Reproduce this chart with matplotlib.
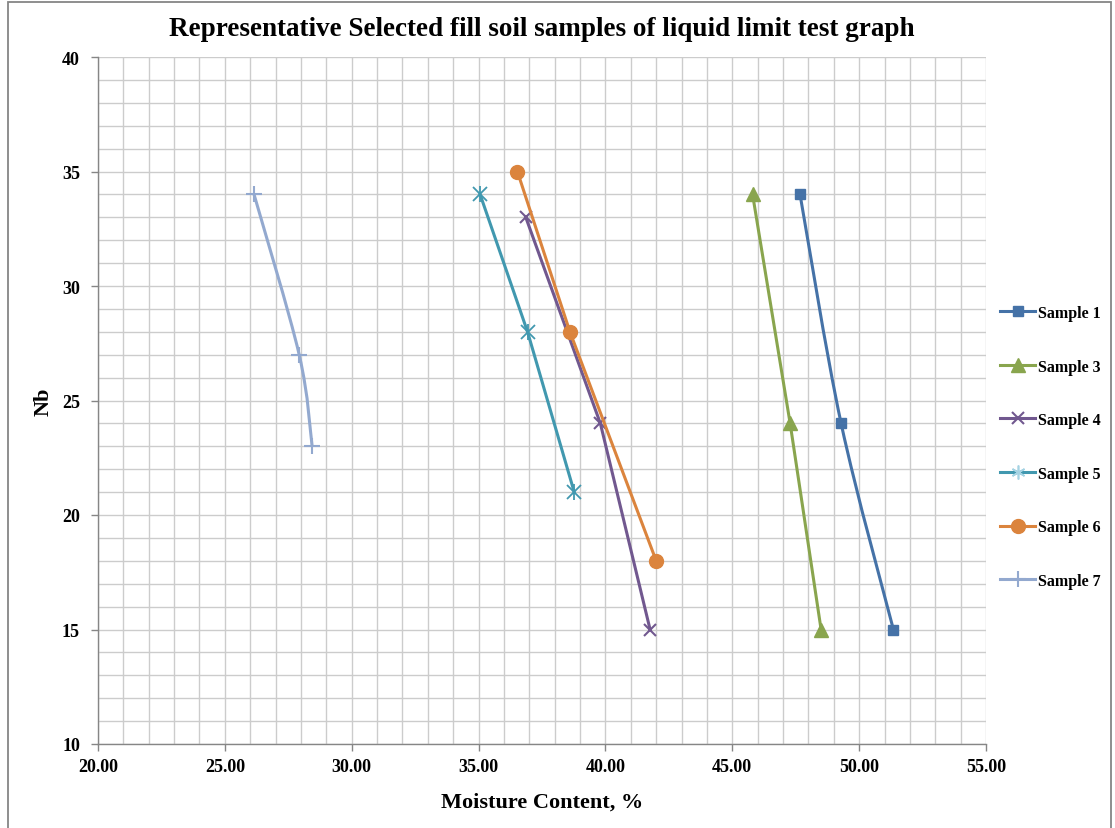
import matplotlib
matplotlib.use("Agg")
import matplotlib.pyplot as plt
from matplotlib.path import Path
from matplotlib.patches import PathPatch, Rectangle
from matplotlib.lines import Line2D
import numpy as np

# ---- data ----
labels = ["Sample 1", "Sample 3", "Sample 4", "Sample 5", "Sample 6", "Sample 7"]
s1_x = [47.67, 49.29, 51.35]
s1_y = [34, 24, 15]
s3_x = [45.8, 47.28, 48.5]
s3_y = [34, 24, 15]
s4_x = [36.86, 39.8, 41.76]
s4_y = [33, 24, 15]
s5_x = [35.06, 36.93, 38.77]
s5_y = [34, 28, 21]
s6_x = [36.53, 38.6, 42.0]
s6_y = [35, 28, 18]
s7_x = [26.15, 27.93, 28.44]
s7_y = [34, 27, 23]

x_ticks = [20, 25, 30, 35, 40, 45, 50, 55]
y_ticks = [10, 15, 20, 25, 30, 35, 40]

series = [
    (s1_x, s1_y, "#4572A7", "s", 7, True),
    (s3_x, s3_y, "#89A54E", "^", 10, False),
    (s4_x, s4_y, "#71588F", "x", 9, False),
    (s5_x, s5_y, "#4198AF", "asterisk", 10, False),
    (s6_x, s6_y, "#DB843D", "o", 10, False),
    (s7_x, s7_y, "#93A9CF", "+", 11, True),
]

W, H = 1115, 829
fig = plt.figure(figsize=(W / 100, H / 100), dpi=100)
fig.patch.set_facecolor("white")
serif = ["Liberation Serif", "DejaVu Serif"]

# outer chart border
fig.add_artist(Rectangle((8 / W, -0.01), (1111 - 8) / W, 1 - 3 / H + 0.01,
                         transform=fig.transFigure, fill=False,
                         edgecolor="#868686", linewidth=1.3))

ax = fig.add_axes([98 / W, 1 - 745 / H, (986 - 98) / W, (745 - 58) / H])
ax.set_xlim(20, 55)
ax.set_ylim(10, 40)
ax.set_xticks(x_ticks)
ax.set_yticks(y_ticks)
ax.set_xticks(np.arange(20, 56, 1), minor=True)
ax.set_yticks(np.arange(10, 41, 1), minor=True)
ax.grid(which="both", color="#cccccc", linewidth=1.0)
ax.set_axisbelow(True)
ax.tick_params(which="minor", length=0)
ax.tick_params(which="major", length=5, color="#868686", width=1)
ax.set_xticklabels([f"{v:.2f}" for v in x_ticks], fontfamily=serif,
                   fontweight="bold", fontsize=13)
ax.set_yticklabels([str(v) for v in y_ticks], fontfamily=serif,
                   fontweight="bold", fontsize=13)
ax.tick_params(axis="x", pad=5)
ax.tick_params(axis="y", pad=8)
for sp in ["top", "right"]:
    ax.spines[sp].set_visible(False)
for sp in ["left", "bottom"]:
    ax.spines[sp].set_color("#868686")
    ax.spines[sp].set_linewidth(1.0)


def smooth_path(xs, ys, t=1 / 6):
    pts = np.column_stack([xs, ys]).astype(float)
    n = len(pts)
    verts = [pts[0]]
    codes = [Path.MOVETO]
    for i in range(n - 1):
        p0 = pts[max(i - 1, 0)]
        p1 = pts[i]
        p2 = pts[i + 1]
        p3 = pts[min(i + 2, n - 1)]
        c1 = p1 + (p2 - p0) * t
        c2 = p2 - (p3 - p1) * t
        verts += [c1, c2, p2]
        codes += [Path.CURVE4] * 3
    return Path(verts, codes)


handles = []
for (xs, ys, col, mk, ms, smooth), lab in zip(series, labels):
    if smooth:
        ax.add_patch(PathPatch(smooth_path(xs, ys), transform=ax.transData,
                               facecolor="none", edgecolor=col, linewidth=2.2,
                               zorder=3))
        ls = "none"
    else:
        ls = "-"
    if mk == "asterisk":
        ax.plot(xs, ys, color=col, linewidth=2.2, linestyle=ls, zorder=3)
        ax.plot(xs, ys, linestyle="none", marker="x", markersize=ms,
                markeredgecolor=col, markeredgewidth=1.3, zorder=4)
        ax.plot(xs, ys, linestyle="none", marker="|", markersize=ms + 2,
                markeredgecolor=col, markeredgewidth=1.3, zorder=4)
        h = Line2D([], [], color=col, linewidth=2.2, marker=(6, 2, 0),
                   markersize=ms, markeredgecolor="#A5D3E3", markeredgewidth=1.2)
    else:
        mew = 1.5 if mk in ("x", "+") else 1.0
        ax.plot(xs, ys, color=col, linewidth=2.2, linestyle=ls, marker=mk,
                markersize=ms, markerfacecolor=col, markeredgecolor=col,
                markeredgewidth=mew, zorder=4)
        h = Line2D([], [], color=col, linewidth=2.2, marker=mk, markersize=ms,
                   markerfacecolor=col, markeredgecolor=col, markeredgewidth=mew)
    handles.append(h)

leg = fig.legend(handles, labels, loc="upper left",
                 bbox_to_anchor=(1000 / W, 1 - 306 / H),
                 frameon=False, prop={"family": serif, "weight": "bold", "size": 11.5},
                 handlelength=2.2, handletextpad=0.2, labelspacing=2.35,
                 borderaxespad=0, borderpad=0)

fig.text((98 + 986) / 2 / W, 1 - 29 / H,
         "Representative Selected fill soil samples of liquid limit test graph",
         ha="center", va="center", fontfamily=serif, fontweight="bold",
         fontsize=19.5)
ax.set_xlabel("Moisture Content, %", fontfamily=serif, fontweight="bold",
              fontsize=16, labelpad=12)
ax.set_ylabel("Nb", fontfamily=serif, fontweight="bold", fontsize=16,
              labelpad=6)

fig.savefig("out.png", dpi=100, facecolor="white")
